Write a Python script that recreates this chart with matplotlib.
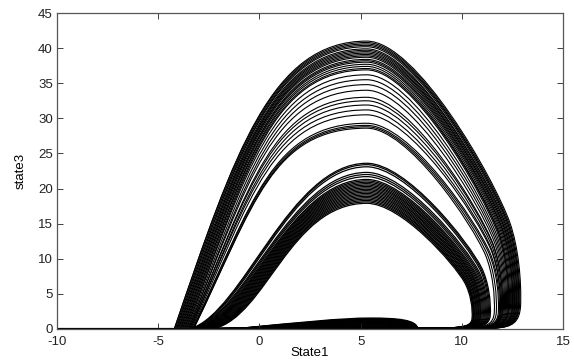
import matplotlib
matplotlib.use("Agg")
import matplotlib.pyplot as plt
from matplotlib.path import Path
from matplotlib.patches import PathPatch

# peak height, left foot and right knee of each loop, tall family
upper_peak = [41.0, 40.8, 40.6, 40.4, 40.2, 39.9, 39.7, 39.5, 39.3, 39.1,
              38.9, 38.7, 38.4, 38.2, 38.0, 37.7, 37.4, 37.1, 36.9, 36.2,
              35.5, 34.8, 34.0, 33.0, 32.5, 31.9, 31.2, 30.5, 29.3, 29.0,
              28.8, 28.6]
upper_foot = [-4.2, -4.2, -4.15, -4.1, -4.1, -4.05, -4.0, -4.0, -3.95, -3.9,
              -3.9, -3.85, -3.8, -3.8, -3.75, -3.7, -3.7, -3.65, -3.6, -3.6,
              -3.55, -3.5, -3.5, -3.45, -3.45, -3.4, -3.4, -3.35, -3.3, -3.3,
              -3.25, -3.25]
upper_knee = [12.9, 12.85, 12.8, 12.8, 12.75, 12.7, 12.7, 12.65, 12.6, 12.6,
              12.55, 12.5, 12.5, 12.45, 12.4, 12.35, 12.3, 12.3, 12.25, 12.2,
              12.15, 12.1, 12.05, 12.0, 12.0, 11.95, 11.9, 11.9, 11.85, 11.8,
              11.7, 11.6]

# short family
lower_peak = [23.6, 23.4, 23.1, 22.3, 22.0, 21.7, 21.3, 21.1, 20.9, 20.7,
              20.5, 20.3, 20.1, 19.9, 19.7, 19.5, 19.3, 19.1, 18.9, 18.7,
              18.5, 18.3, 18.1, 17.9]
lower_foot = [-3.4, -3.35, -3.3, -3.25, -3.2, -3.15, -3.1, -3.05, -3.0, -2.95,
              -2.9, -2.85, -2.8, -2.75, -2.7, -2.65, -2.6, -2.55, -2.5, -2.45,
              -2.4, -2.35, -2.3, -2.25]
lower_knee = [11.4, 11.35, 11.3, 11.25, 11.2, 11.15, 11.1, 11.05, 11.0, 10.95,
              10.9, 10.9, 10.85, 10.8, 10.8, 10.75, 10.7, 10.7, 10.65, 10.6,
              10.6, 10.55, 10.55, 10.5]

# small hump along the floor
bump_height = [0.15, 0.25, 0.35, 0.45, 0.55, 0.65, 0.75, 0.85, 0.95, 1.05,
               1.15, 1.25, 1.35, 1.45, 1.55]
bump_span = [-1.2, 7.8]

# initial transient along state3 = 0
transient_x = [-10.0, -4.2]
transient_y = [0.0, 0.0]

xticks = [-10, -5, 0, 5, 10, 15]
yticks = [0, 5, 10, 15, 20, 25, 30, 35, 40, 45]

PEAK_X = 5.3
C4 = Path.CURVE4


def loop_path(foot, peak, knee, lift, rise, lead):
    xs = PEAK_X + 0.93 * (knee - PEAK_X)
    ys = 0.37 * peak
    yk = 0.08 * peak
    w = xs - PEAK_X
    verts = [(foot, 0.05),
             (foot + lift, rise * peak), (PEAK_X - lead, peak), (PEAK_X, peak),
             (PEAK_X + 0.35 * w, peak), (xs - 0.11 * w, 1.41 * ys), (xs, ys),
             (xs + 0.06 * w, 0.77 * ys), (knee + 0.05, yk + 0.3 * (ys - yk)), (knee, yk),
             (knee - 0.05, 0.3 * yk), (knee - 0.4, 0.25), (knee - 1.2, 0.15),
             (foot, 0.05)]
    codes = [Path.MOVETO] + [C4] * 12 + [Path.LINETO]
    return Path(verts, codes)


def bump_path(h):
    x0, x1 = bump_span
    verts = [(x0, 0.02),
             (2.0, 0.6 * h), (4.0, h), (5.5, h),
             (6.8, h), (x1, 0.85 * h), (x1, 0.02)]
    codes = [Path.MOVETO] + [C4] * 6
    return Path(verts, codes)


plt.rcParams['font.family'] = ['Liberation Sans', 'DejaVu Sans']
plt.rcParams['axes.unicode_minus'] = False
fig = plt.figure(figsize=(5.74, 3.62), dpi=100)
ax = fig.add_axes([0.0993, 0.0912, 0.8817, 0.8728])

ax.plot(transient_x, transient_y, color='k', lw=1.6, solid_capstyle='butt')

for p, f, k in zip(upper_peak, upper_foot, upper_knee):
    ax.add_patch(PathPatch(loop_path(f, p, k, 3.0, 0.62, 4.7),
                           fill=False, ec='k', lw=0.8))
for p, f, k in zip(lower_peak, lower_foot, lower_knee):
    ax.add_patch(PathPatch(loop_path(f, p, k, 2.6, 0.1, 3.8),
                           fill=False, ec='k', lw=0.9))
for h in bump_height:
    ax.add_patch(PathPatch(bump_path(h), fill=False, ec='k', lw=1.0))

ax.set_xlim(xticks[0], xticks[-1])
ax.set_ylim(yticks[0], yticks[-1])
ax.set_xticks(xticks)
ax.set_yticks(yticks)
ax.tick_params(direction='in', top=True, right=True, length=4, width=0.6,
               labelsize=9.5, colors='#222222')
ax.tick_params(axis='x', pad=5)
ax.tick_params(axis='y', pad=3)
for s in ax.spines.values():
    s.set_linewidth(0.9)
    s.set_color('#555555')
ax.set_xlabel('State1', fontsize=9.5, labelpad=-1)
ax.set_ylabel('state3', fontsize=9.5, labelpad=8)

fig.savefig('out.png', dpi=100)
